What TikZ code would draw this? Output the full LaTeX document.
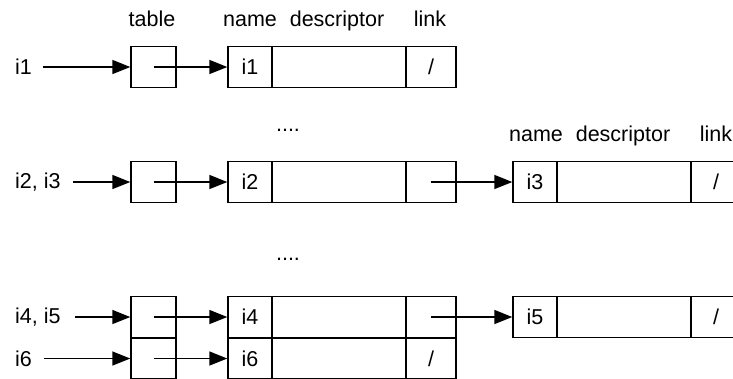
\documentclass[tikz,border=0pt]{standalone}
\usepackage{fontspec}
\setmainfont{Liberation Sans}
\usetikzlibrary{arrows.meta}
\tikzset{
  every node/.style={font=\fontsize{21.5bp}{25bp}\selectfont},
  cellbox/.style={draw, line width=1.4bp, minimum height=41bp, inner sep=0pt, outer sep=0pt, anchor=west},
  tbl/.style={cellbox, minimum width=45bp},
  namec/.style={cellbox, minimum width=44bp},
  descc/.style={cellbox, minimum width=134bp},
  linkc/.style={cellbox, minimum width=50bp},
  lbl/.style={anchor=west, inner sep=0pt},
  hdr/.style={anchor=base, inner sep=0pt},
  arr/.style={line width=1.4bp, -{Triangle[length=18bp,width=14bp]}, shorten >=0.7bp}
}
\begin{document}
\begin{tikzpicture}[x=1bp, y=-1bp]
\useasboundingbox (0,0) rectangle (733,378);
\clip (0,0) rectangle (733,378);
% headers
\node[hdr] (h1) at (152,26) {table};
\node[hdr] (h2) at (250,26) {name};
\node[hdr] (h3) at (337,26) {descriptor};
\node[hdr] (h4) at (430,26) {link};
\node[hdr] (h5) at (536,141) {name};
\node[hdr] (h6) at (623,141) {descriptor};
\node[hdr] (h7) at (716,141) {link};
\node[hdr] (d1) at (288,131) {....};
\node[hdr] (d2) at (288,260) {....};
% tails
\coordinate (s1) at (43,67);
\coordinate (s2) at (73,182);
\coordinate (s3) at (75,317);
\coordinate (s4) at (44,358.5);
% row 1
\node[lbl] (l1) at (15,67) {i1};
\node[tbl] (t1) at (131,67) {};
\node[namec] (n1) at (228,67) {i1};
\node[descc] (e1) at (n1.east) {};
\node[linkc] (k1) at (e1.east) {/};
% row 2
\node[lbl] (l2) at (15,182) {i2, i3};
\node[tbl] (t2) at (131,182) {};
\node[namec] (n2) at (228,182) {i2};
\node[descc] (e2) at (n2.east) {};
\node[linkc] (k2) at (e2.east) {};
\node[namec] (n3) at (513,182) {i3};
\node[descc] (e3) at (n3.east) {};
\node[linkc] (k3) at (e3.east) {/};
% row 3
\node[lbl] (l3) at (15,317) {i4, i5};
\node[tbl] (t3) at (131,317) {};
\node[namec] (n4) at (228,317) {i4};
\node[descc] (e4) at (n4.east) {};
\node[linkc] (k4) at (e4.east) {};
\node[namec] (n5) at (513,317) {i5};
\node[descc] (e5) at (n5.east) {};
\node[linkc] (k5) at (e5.east) {/};
% row 4
\node[lbl] (l4) at (15,358.5) {i6};
\node[tbl] (t4) at (131,358.5) {};
\node[namec] (n6) at (228,358.5) {i6};
\node[descc] (e6) at (n6.east) {};
\node[linkc] (k6) at (e6.east) {/};
% arrows
\draw[arr] (s1) -- (t1.west);
\draw[arr] (s2) -- (t2.west);
\draw[arr] (s3) -- (t3.west);
\draw[arr] (s4) -- (t4.west);
\draw[arr] (t1.center) -- (n1.west);
\draw[arr] (t2.center) -- (n2.west);
\draw[arr] (t3.center) -- (n4.west);
\draw[arr] (t4.center) -- (n6.west);
\draw[arr] (k2.center) -- (n3.west);
\draw[arr] (k4.center) -- (n5.west);
\end{tikzpicture}
\end{document}
